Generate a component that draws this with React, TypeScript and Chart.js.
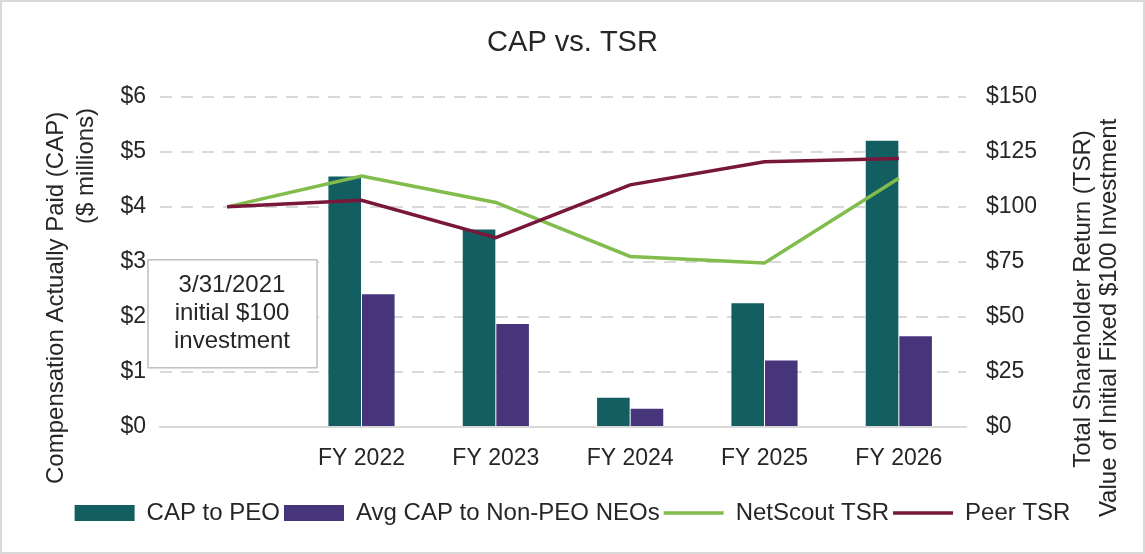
import { useEffect, useRef } from 'react';
import { Chart, registerables } from 'chart.js';

Chart.register(...registerables);

const categories = ['', 'FY 2022', 'FY 2023', 'FY 2024', 'FY 2025', 'FY 2026'];
const capToPeo = [null, 4.55, 3.59, 0.53, 2.25, 5.2];
const avgCapNonPeo = [null, 2.41, 1.87, 0.33, 1.21, 1.65];
const netscoutTsr = [100, 114, 102, 77.5, 74.5, 113];
const peerTsr = [100, 103, 86, 110, 120.5, 122];
const noteLines = ['3/31/2021', 'initial $100', 'investment'];
const leftTitle = ['Compensation Actually Paid (CAP)', '($ millions)'];
const rightTitle = ['Total Shareholder Return (TSR)', 'Value of Initial Fixed $100 Investment'];

const FONT = '"Liberation Sans", Arial, sans-serif';
const TEXT = '#262626';
const GRID = '#d9d9d9';

// axis titles read bottom-to-top on both sides, plus the note box and frame
const extras = {
  id: 'extras',
  afterDraw(chart: Chart) {
    const { ctx, chartArea, width, height } = chart;
    const midY = (chartArea.top + chartArea.bottom) / 2;
    ctx.save();
    ctx.fillStyle = TEXT;
    ctx.font = `24px ${FONT}`;
    ctx.textAlign = 'center';
    ctx.textBaseline = 'middle';

    const vText = (s: string, x: number, y: number) => {
      ctx.save();
      ctx.translate(x, y);
      ctx.rotate(-Math.PI / 2);
      ctx.fillText(s, 0, 0);
      ctx.restore();
    };
    vText(leftTitle[0], 56, midY + 36);
    vText(leftTitle[1], 86, midY - 96);
    vText(rightTitle[0], 1083, midY + 37);
    vText(rightTitle[1], 1109, midY + 56);

    // note box
    const bx = chartArea.left - 12;
    const by = chartArea.top + 163;
    ctx.fillStyle = '#ffffff';
    ctx.fillRect(bx, by, 169, 108);
    ctx.strokeStyle = '#bfbfbf';
    ctx.lineWidth = 1.5;
    ctx.strokeRect(bx, by, 169, 108);
    ctx.fillStyle = TEXT;
    noteLines.forEach((s, i) => ctx.fillText(s, bx + 84, by + 26 + i * 28));

    ctx.strokeStyle = GRID;
    ctx.lineWidth = 2;
    ctx.strokeRect(1, 1, width - 2, height - 2);
    ctx.restore();
  },
};

const App = () => {
  const chartRef = useRef<HTMLCanvasElement | null>(null);
  const chartInstance = useRef<Chart | null>(null);

  useEffect(() => {
    document.body.style.margin = '0';
    if (!chartRef.current) return;
    const ctx = chartRef.current.getContext('2d');
    if (!ctx) return;

    if (chartInstance.current) chartInstance.current.destroy();

    chartInstance.current = new Chart(ctx, {
      type: 'bar',
      data: {
        labels: categories,
        datasets: [
          {
            type: 'line',
            label: 'NetScout TSR',
            data: netscoutTsr,
            yAxisID: 'y1',
            borderColor: '#82bc4c',
            backgroundColor: '#82bc4c',
            borderWidth: 3.5,
            pointRadius: 0,
            tension: 0,
            order: 1,
          },
          {
            type: 'line',
            label: 'Peer TSR',
            data: peerTsr,
            yAxisID: 'y1',
            borderColor: '#78173a',
            backgroundColor: '#78173a',
            borderWidth: 3.5,
            pointRadius: 0,
            tension: 0,
            order: 0,
          },
          {
            label: 'CAP to PEO',
            data: capToPeo,
            yAxisID: 'y',
            backgroundColor: '#135e60',
            categoryPercentage: 0.5,
            barPercentage: 0.97,
            order: 2,
          },
          {
            label: 'Avg CAP to Non-PEO NEOs',
            data: avgCapNonPeo,
            yAxisID: 'y',
            backgroundColor: '#47357c',
            categoryPercentage: 0.5,
            barPercentage: 0.97,
            order: 3,
          },
        ] as any,
      },
      options: {
        animation: false,
        responsive: true,
        maintainAspectRatio: false,
        layout: { padding: { top: 0, bottom: 19, left: 0, right: 0 } },
        plugins: {
          title: {
            display: true,
            text: 'CAP vs. TSR',
            color: TEXT,
            font: { family: FONT, size: 29, weight: 'normal' },
            padding: { top: 26, bottom: 36 },
          },
          legend: {
            position: 'bottom',
            labels: {
              color: TEXT,
              font: { family: FONT, size: 24 },
              usePointStyle: true,
              pointStyleWidth: 60,
              boxHeight: 16,
              padding: 4,
              sort: (a, b) => {
                const order = ['CAP to PEO', 'Avg CAP to Non-PEO NEOs', 'NetScout TSR', 'Peer TSR'];
                return order.indexOf(a.text) - order.indexOf(b.text);
              },
              generateLabels: (chart) =>
                Chart.defaults.plugins.legend.labels.generateLabels(chart).map((item) => {
                  const ds: any = chart.data.datasets[item.datasetIndex as number];
                  const isLine = ds.type === 'line';
                  return {
                    ...item,
                    pointStyle: isLine ? 'line' : 'rect',
                    fillStyle: isLine ? ds.borderColor : ds.backgroundColor,
                    strokeStyle: isLine ? ds.borderColor : ds.backgroundColor,
                    lineWidth: isLine ? 3.5 : 0,
                  };
                }),
            },
          },
          tooltip: { enabled: false },
        },
        scales: {
          x: {
            grid: { display: false },
            border: { color: GRID, width: 2 },
            ticks: { color: TEXT, font: { family: FONT, size: 23 }, padding: 10 },
            afterFit: (scale) => {
              scale.height = 70;
            },
          },
          y: {
            position: 'left',
            min: 0,
            max: 6,
            ticks: {
              stepSize: 1,
              color: TEXT,
              font: { family: FONT, size: 23 },
              padding: 14,
              callback: (v) => '$' + v,
            },
            grid: {
              color: (c) => (c.tick.value === 0 ? 'rgba(0,0,0,0)' : GRID),
              lineWidth: 2,
              drawTicks: false,
            },
            border: { display: false, dash: [12, 9] },
            afterFit: (scale) => {
              scale.width = 160;
            },
          },
          y1: {
            position: 'right',
            min: 0,
            max: 150,
            ticks: {
              stepSize: 25,
              color: TEXT,
              font: { family: FONT, size: 23 },
              padding: 20,
              callback: (v) => '$' + v,
            },
            grid: { drawOnChartArea: false, drawTicks: false },
            border: { display: false },
            afterFit: (scale) => {
              scale.width = 179;
            },
          },
        },
      },
      plugins: [extras],
    });

    return () => {
      if (chartInstance.current) {
        chartInstance.current.destroy();
        chartInstance.current = null;
      }
    };
  }, []);

  return (
    <div style={{ position: 'relative', width: '1145px', height: '554px', background: '#fff' }}>
      <canvas ref={chartRef} />
    </div>
  );
};

export default App;
